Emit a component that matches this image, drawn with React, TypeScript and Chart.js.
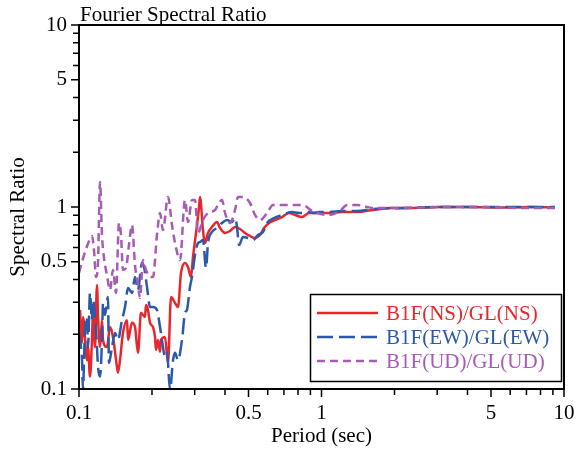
import React, { useEffect, useRef } from 'react';
import { Chart, registerables } from 'chart.js';

Chart.register(...registerables);

// ---- data (period in sec, spectral ratio) ----
const nsPeriod = [0.101, 0.1029, 0.1039, 0.1079, 0.1089, 0.111, 0.1131, 0.1142, 0.1164, 0.1186, 0.1198, 0.1221, 0.1244, 0.1256, 0.1304, 0.1342, 0.1381, 0.1434, 0.1448, 0.1476, 0.1518, 0.1578, 0.1593, 0.1654, 0.1702, 0.1751, 0.1801, 0.1871, 0.1889, 0.1925, 0.1963, 0.2019, 0.2058, 0.2078, 0.2117, 0.2158, 0.2179, 0.2263, 0.2328, 0.2396, 0.2489, 0.256, 0.2634, 0.2736, 0.2815, 0.2896, 0.2952, 0.3038, 0.3126, 0.3155, 0.3245, 0.3308, 0.3404, 0.3535, 0.3708, 0.3815, 0.4, 0.4195, 0.4399, 0.4613, 0.4837, 0.5072, 0.5318, 0.5578, 0.5794, 0.6077, 0.6431, 0.6874, 0.7345, 0.7776, 0.8311, 0.8882, 0.9766, 1.074, 1.215, 1.401, 1.631, 1.916, 2.252, 3.08, 4.1, 5.45, 7.24, 9.18];
const nsRatio = [0.272, 0.179, 0.249, 0.144, 0.17, 0.117, 0.186, 0.262, 0.17, 0.373, 0.249, 0.17, 0.239, 0.186, 0.17, 0.219, 0.193, 0.132, 0.123, 0.144, 0.203, 0.239, 0.186, 0.231, 0.219, 0.158, 0.262, 0.249, 0.289, 0.272, 0.231, 0.219, 0.193, 0.164, 0.186, 0.16, 0.186, 0.193, 0.139, 0.32, 0.297, 0.282, 0.434, 0.493, 0.468, 0.413, 0.531, 0.72, 1.0, 1.135, 0.747, 0.634, 0.72, 0.776, 0.827, 0.767, 0.72, 0.738, 0.776, 0.757, 0.72, 0.693, 0.676, 0.702, 0.767, 0.817, 0.848, 0.881, 0.927, 0.904, 0.881, 0.927, 0.927, 0.927, 0.939, 0.939, 0.963, 0.987, 0.987, 1.0, 1.0, 0.994, 1.0, 0.994];

const ewPeriod = [0.1, 0.1019, 0.1029, 0.1039, 0.1049, 0.1059, 0.1079, 0.1089, 0.111, 0.1131, 0.1142, 0.1164, 0.1186, 0.1198, 0.1221, 0.1244, 0.1256, 0.128, 0.1317, 0.1329, 0.1368, 0.1408, 0.1448, 0.1504, 0.1548, 0.1593, 0.1654, 0.1702, 0.1751, 0.1818, 0.1854, 0.1907, 0.1963, 0.2019, 0.2097, 0.2158, 0.222, 0.2263, 0.2307, 0.2373, 0.2442, 0.2489, 0.256, 0.2659, 0.2736, 0.2788, 0.2869, 0.2924, 0.3008, 0.3096, 0.3155, 0.3245, 0.334, 0.3404, 0.3535, 0.3708, 0.3889, 0.4077, 0.4276, 0.4399, 0.4484, 0.4569, 0.4746, 0.4977, 0.5218, 0.5472, 0.574, 0.5963, 0.637, 0.6874, 0.7558, 0.8078, 0.847, 0.8882, 0.9313, 0.9766, 1.074, 1.215, 1.401, 1.631, 2.252, 3.08, 4.1, 5.45, 7.24, 9.18];
const ewRatio = [0.203, 0.17, 0.144, 0.099, 0.144, 0.219, 0.249, 0.17, 0.337, 0.239, 0.308, 0.249, 0.17, 0.132, 0.117, 0.186, 0.297, 0.255, 0.32, 0.139, 0.17, 0.203, 0.186, 0.239, 0.282, 0.359, 0.337, 0.413, 0.35, 0.493, 0.468, 0.364, 0.282, 0.282, 0.272, 0.219, 0.17, 0.15, 0.158, 0.099, 0.144, 0.158, 0.144, 0.186, 0.262, 0.272, 0.364, 0.413, 0.545, 0.634, 0.642, 0.659, 0.462, 0.634, 0.729, 0.767, 0.817, 0.848, 0.827, 0.87, 0.776, 0.618, 0.684, 0.676, 0.659, 0.702, 0.729, 0.817, 0.87, 0.904, 0.939, 0.927, 0.927, 0.939, 0.927, 0.939, 0.939, 0.951, 0.951, 0.975, 0.987, 1.0, 1.0, 1.0, 1.0, 1.0];

const udPeriod = [0.1, 0.1029, 0.1059, 0.11, 0.1131, 0.1153, 0.1175, 0.1198, 0.1221, 0.1244, 0.1268, 0.1304, 0.1342, 0.1381, 0.1421, 0.1462, 0.149, 0.1518, 0.1562, 0.1607, 0.1654, 0.1702, 0.1751, 0.1784, 0.1836, 0.1889, 0.1963, 0.2019, 0.2097, 0.2158, 0.222, 0.2328, 0.2419, 0.2489, 0.2609, 0.2736, 0.2815, 0.2924, 0.3008, 0.3096, 0.3245, 0.3404, 0.3638, 0.3743, 0.3889, 0.4, 0.4195, 0.4399, 0.4526, 0.4746, 0.5072, 0.5318, 0.5578, 0.5963, 0.631, 0.6939, 0.7925, 0.8551, 0.9138, 0.9582, 1.074, 1.192, 1.274, 1.401, 1.54, 1.631, 2.107, 3.08, 4.504, 6.585, 9.18];
const udRatio = [0.434, 0.499, 0.566, 0.651, 0.693, 0.58, 0.413, 0.499, 1.372, 0.702, 0.525, 0.423, 0.35, 0.451, 0.337, 0.817, 0.702, 0.451, 0.462, 0.618, 0.796, 0.48, 0.373, 0.316, 0.511, 0.451, 0.413, 0.413, 0.702, 0.927, 0.747, 1.135, 0.796, 0.634, 0.511, 1.093, 0.827, 1.093, 1.093, 0.72, 0.848, 0.927, 0.963, 1.026, 1.093, 0.927, 0.817, 0.963, 1.135, 1.135, 1.052, 0.904, 0.848, 0.927, 1.026, 1.026, 1.026, 1.013, 0.951, 0.927, 0.904, 0.951, 1.026, 1.026, 1.0, 0.987, 0.987, 1.0, 1.0, 0.987, 0.987];

const seriesLabels = ['B1F(NS)/GL(NS)', 'B1F(EW)/GL(EW)', 'B1F(UD)/GL(UD)'];
const majorTicks = [0.1, 0.5, 1, 5, 10];
const minorTicks = [0.2, 0.3, 0.4, 0.6, 0.7, 0.8, 0.9, 2, 3, 4, 6, 7, 8, 9];
const chartTitle = 'Fourier Spectral Ratio';
const xAxisTitle = 'Period (sec)';
const yAxisTitle = 'Spectral Ratio';

const FONT = '"Liberation Serif", "Times New Roman", serif';
const COLORS = ['#e8262b', '#2a5aa8', '#a75bb5'];
const DASHES: number[][] = [[], [16, 6], [8, 5]];

const toPoints = (xs: number[], ys: number[]) => xs.map((x, i) => ({ x, y: ys[i] }));

const framePlugin = {
  id: 'frameTicksLegend',
  afterDraw(chart: any) {
    const { ctx, chartArea } = chart;
    const { left, right, top, bottom } = chartArea;
    const xs = chart.scales.x;
    const ys = chart.scales.y;
    ctx.save();
    ctx.strokeStyle = '#000';
    ctx.lineWidth = 2;
    ctx.setLineDash([]);
    ctx.strokeRect(left, top, right - left, bottom - top);
    ctx.lineWidth = 1.5;
    ctx.beginPath();
    const drawTick = (v: number, len: number) => {
      const px = xs.getPixelForValue(v);
      ctx.moveTo(px, bottom);
      ctx.lineTo(px, bottom + len);
      const py = ys.getPixelForValue(v);
      ctx.moveTo(left, py);
      ctx.lineTo(left - len, py);
    };
    majorTicks.forEach((v) => drawTick(v, 8));
    minorTicks.forEach((v) => drawTick(v, 6));
    ctx.stroke();

    // title
    ctx.fillStyle = '#000';
    ctx.font = `21px ${FONT}`;
    ctx.textAlign = 'left';
    ctx.textBaseline = 'alphabetic';
    ctx.fillText(chartTitle, left + 1, 21);

    // y axis title
    ctx.save();
    ctx.translate(18, (top + bottom) / 2 + 10);
    ctx.rotate(-Math.PI / 2);
    ctx.textAlign = 'center';
    ctx.textBaseline = 'middle';
    ctx.fillText(yAxisTitle, 0, 0);
    ctx.restore();

    // legend
    const bx = 310.5, by = 294.5, bw = 251, bh = 87;
    ctx.fillStyle = '#fff';
    ctx.fillRect(bx, by, bw, bh);
    ctx.strokeStyle = '#000';
    ctx.lineWidth = 1.5;
    ctx.strokeRect(bx, by, bw, bh);
    seriesLabels.forEach((label, i) => {
      const yy = 313 + i * 24;
      ctx.beginPath();
      ctx.strokeStyle = COLORS[i];
      ctx.lineWidth = 2.5;
      ctx.setLineDash(DASHES[i]);
      ctx.moveTo(317, yy);
      ctx.lineTo(378, yy);
      ctx.stroke();
      ctx.setLineDash([]);
      ctx.fillStyle = COLORS[i];
      ctx.font = `21px ${FONT}`;
      ctx.textAlign = 'left';
      ctx.textBaseline = 'middle';
      ctx.fillText(label, 386, yy + 1);
    });
    ctx.restore();
  },
};

export default function App() {
  const ref = useRef<HTMLCanvasElement | null>(null);
  useEffect(() => {
    if (!ref.current) return;
    const series = [
      toPoints(nsPeriod, nsRatio),
      toPoints(ewPeriod, ewRatio),
      toPoints(udPeriod, udRatio),
    ];
    const chart = new Chart(ref.current, {
      type: 'line',
      data: {
        datasets: series.map((data, i) => ({
          label: seriesLabels[i],
          data,
          borderColor: COLORS[i],
          borderWidth: 2.5,
          borderDash: DASHES[i],
          pointRadius: 0,
          fill: false,
          cubicInterpolationMode: 'monotone' as const,
          order: 2 - i,
        })),
      },
      options: {
        responsive: false,
        animation: false,
        layout: { padding: { top: 25, right: 13, left: 0, bottom: 0 } },
        plugins: { legend: { display: false }, tooltip: { enabled: false }, title: { display: false } },
        scales: {
          x: {
            type: 'logarithmic',
            min: 0.1,
            max: 10,
            afterBuildTicks: (scale: any) => {
              scale.ticks = majorTicks.map((value) => ({ value }));
            },
            afterFit: (scale: any) => {
              scale.height = 63;
              scale.paddingLeft = 0;
              scale.paddingRight = 0;
            },
            ticks: {
              autoSkip: false,
              maxRotation: 0,
              padding: 12,
              color: '#000',
              font: { family: FONT, size: 21 },
              callback: (v: any) => String(v),
            },
            grid: { drawOnChartArea: false, drawTicks: false },
            border: { display: false },
            title: {
              display: true,
              text: xAxisTitle,
              color: '#000',
              font: { family: FONT, size: 21 },
              padding: { top: 0, bottom: 3 },
            },
          },
          y: {
            type: 'logarithmic',
            min: 0.1,
            max: 10,
            afterBuildTicks: (scale: any) => {
              scale.ticks = majorTicks.map((value) => ({ value }));
            },
            afterFit: (scale: any) => {
              scale.width = 79;
              scale.paddingTop = 0;
              scale.paddingBottom = 0;
            },
            ticks: {
              autoSkip: false,
              padding: 12,
              color: '#000',
              font: { family: FONT, size: 21 },
              callback: (v: any) => String(v),
            },
            grid: { drawOnChartArea: false, drawTicks: false },
            border: { display: false },
            title: { display: false },
          },
        },
      },
      plugins: [framePlugin],
    });
    return () => chart.destroy();
  }, []);
  return (
    <div style={{ position: 'absolute', left: 0, top: 0, width: 577, height: 452, background: '#fff' }}>
      <canvas ref={ref} width={577} height={452} />
    </div>
  );
}
